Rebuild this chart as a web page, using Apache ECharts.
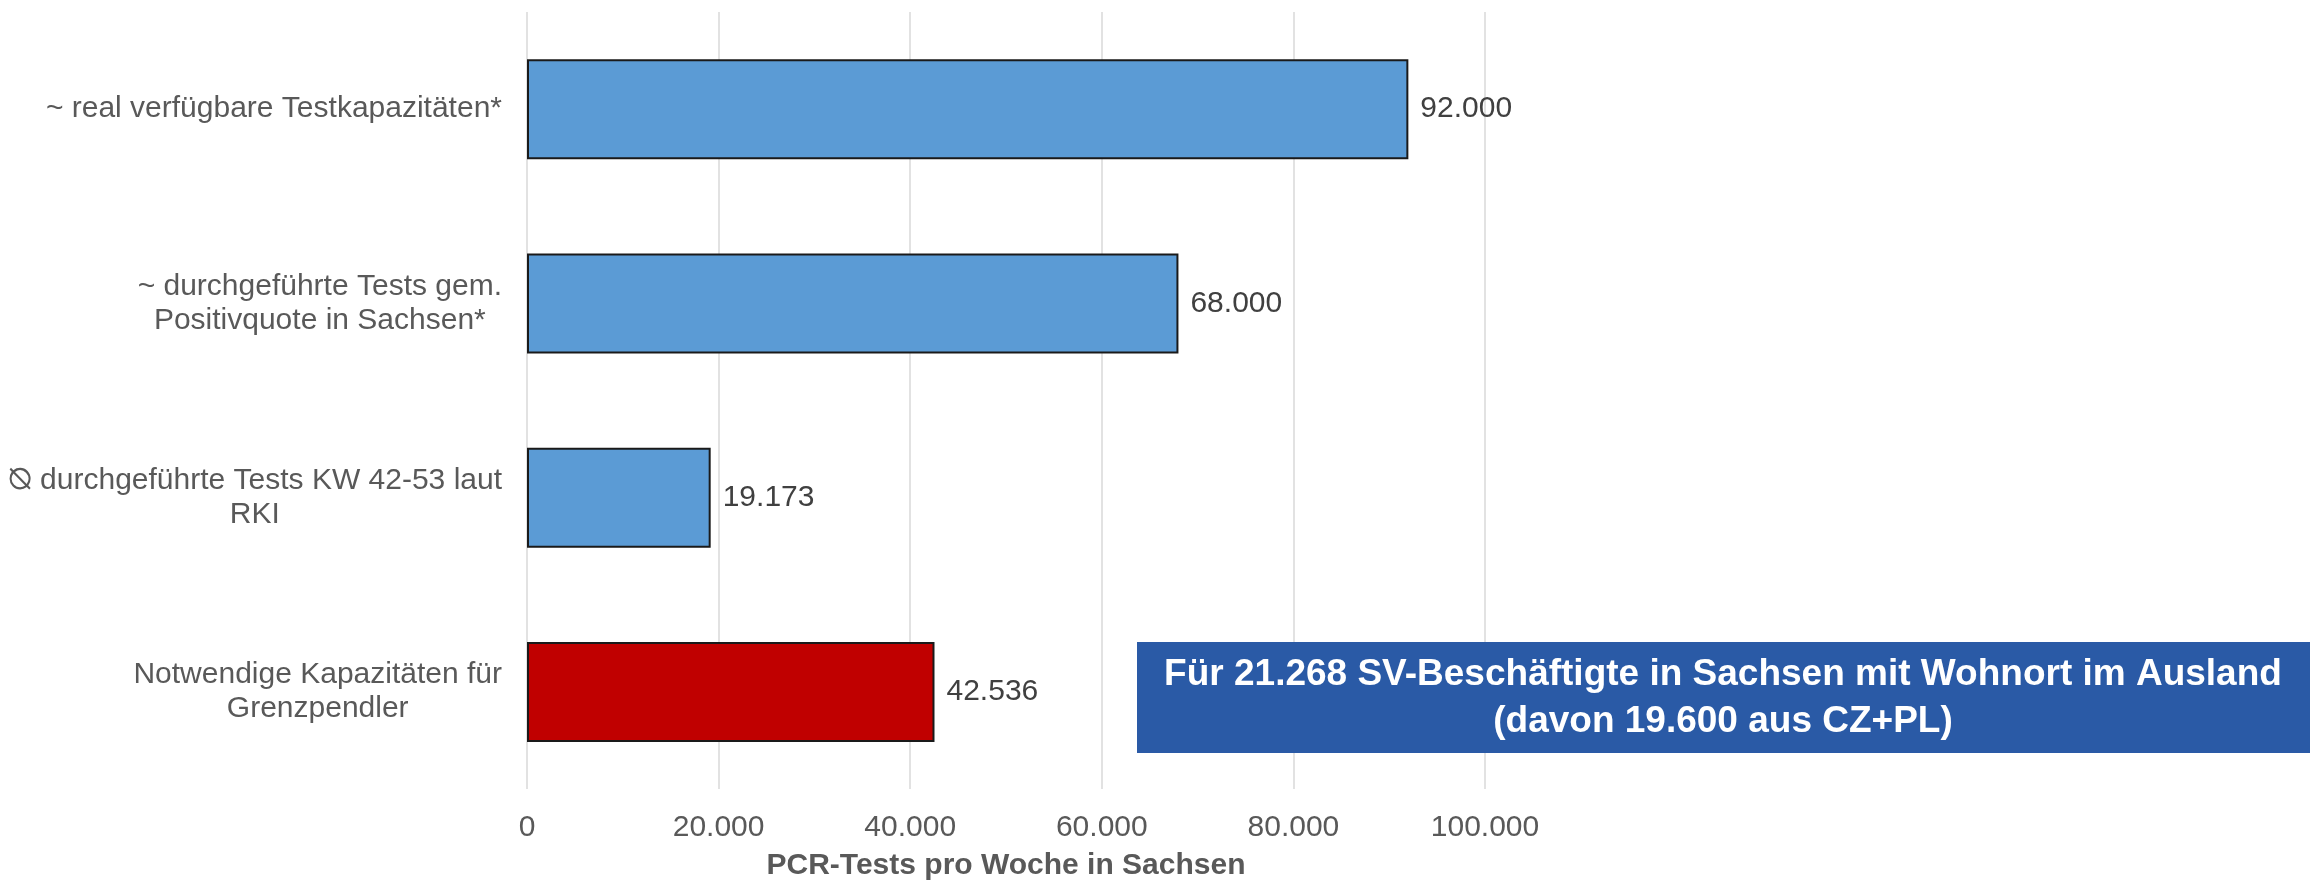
<!DOCTYPE html>
<html>
<head>
<meta charset="utf-8">
<script src="https://cdn.jsdelivr.net/npm/echarts@6/dist/echarts.min.js"></script>
<style>
html,body{margin:0;padding:0;background:#fff;}
#chart{width:2316px;height:886px;}
</style>
</head>
<body>
<div id="chart"></div>
<script>
const categories = [
  '~ real verfügbare Testkapazitäten*',
  '~ durchgeführte Tests gem.\nPositivquote in Sachsen*',
  '⦰ durchgeführte Tests KW 42-53 laut\nRKI',
  'Notwendige Kapazitäten für\nGrenzpendler'
];
const values = [92000, 68000, 19173, 42536];
const barColors = ['#5B9BD5', '#5B9BD5', '#5B9BD5', '#C00000'];
const xTicks = { min: 0, max: 100000, interval: 20000 };
const axisTitle = 'PCR-Tests pro Woche in Sachsen';
const noteLines = ['Für 21.268 SV-Beschäftigte in Sachsen mit Wohnort im Ausland', '(davon 19.600 aus CZ+PL)'];

const FONT = '"Liberation Sans", Arial, sans-serif';
function fmt(v) {
  return String(Math.round(v)).replace(/\B(?=(\d{3})+(?!\d))/g, '.');
}

const chart = echarts.init(document.getElementById('chart'));
chart.setOption({
  animation: false,
  backgroundColor: '#ffffff',
  grid: { left: 527, right: 831, top: 12, bottom: 93, containLabel: false },
  xAxis: {
    type: 'value',
    min: xTicks.min, max: xTicks.max, interval: xTicks.interval,
    axisLine: { show: false },
    axisTick: { show: false },
    splitLine: { show: true, lineStyle: { color: '#D9D9D9', width: 1.5 } },
    axisLabel: { fontFamily: FONT, fontSize: 30, color: '#595959', margin: 24, formatter: fmt },
    name: axisTitle,
    nameLocation: 'middle',
    nameGap: 62,
    nameTextStyle: { fontFamily: FONT, fontSize: 30, fontWeight: 'bold', color: '#595959' }
  },
  yAxis: {
    type: 'category',
    inverse: true,
    data: categories,
    axisLine: { show: false },
    axisTick: { show: false },
    splitLine: { show: false },
    axisLabel: {
      fontFamily: FONT, fontSize: 30, color: '#595959', margin: 25, align: 'right', lineHeight: 34,
      formatter: function (v) { return v.split('\n').map(function (l) { return '{c|' + l + '}'; }).join('\n'); },
      rich: { c: { align: 'center', fontFamily: FONT, fontSize: 30, color: '#595959', lineHeight: 34 } }
    }
  },
  series: [{
    type: 'bar',
    barWidth: 100,
    data: values.map(function (v, i) {
      return { value: v, itemStyle: { color: barColors[i] } };
    }),
    itemStyle: { borderColor: '#1a1a1a', borderWidth: 2 },
    label: {
      show: true, position: 'right', distance: 12,
      fontFamily: FONT, fontSize: 30, color: '#404040',
      formatter: function (p) { return fmt(p.value); }
    }
  }],
  graphic: [{
    type: 'group',
    left: 1137, top: 642,
    z: 100,
    children: [
      { type: 'rect', z: 100, shape: { x: 0, y: 0, width: 1173, height: 111 }, style: { fill: '#2A5AA6' } },
      {
        type: 'text', z: 101, x: 586, y: 56,
        style: {
          text: noteLines.join('\n'),
          fontFamily: FONT, fontSize: 37, fontWeight: 'bold', fill: '#ffffff',
          align: 'center', verticalAlign: 'middle', lineHeight: 47
        }
      }
    ]
  }]
});
</script>
</body>
</html>
